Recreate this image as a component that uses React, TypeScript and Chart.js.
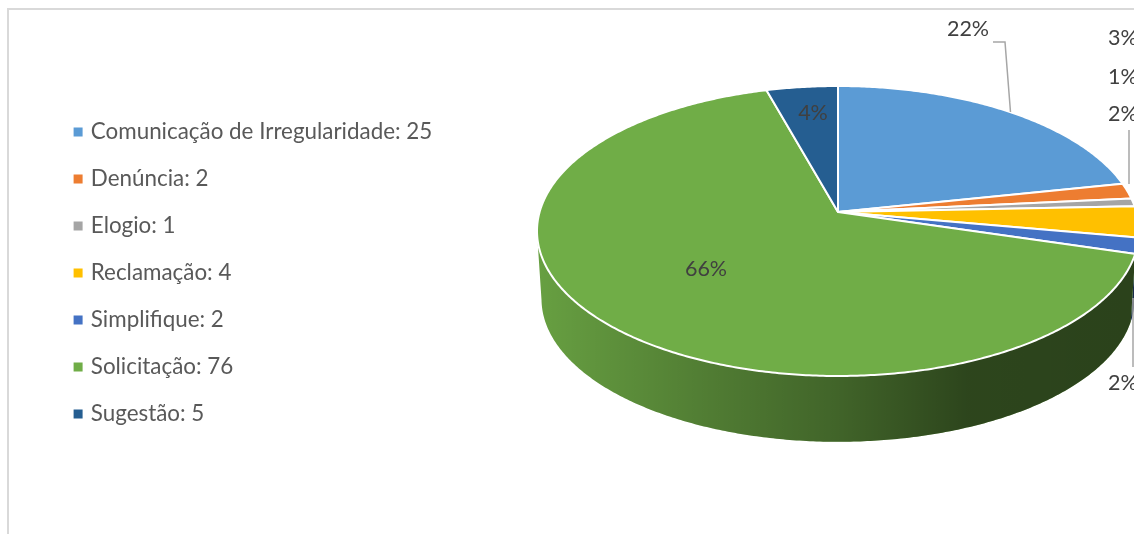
import React, { useEffect, useRef } from "react";
import { Chart, registerables } from "chart.js";

Chart.register(...registerables);

const categories = ["Comunicação de Irregularidade", "Denúncia", "Elogio", "Reclamação", "Simplifique", "Solicitação", "Sugestão"];
const values = [25, 2, 1, 4, 2, 76, 5];
const colors = ["#5b9bd5", "#ed7d31", "#a5a5a5", "#ffc000", "#4472c4", "#70ad47", "#255e91"];

// Where each percentage label sits (same order as categories)
const labelX = [968, 1108, 1108, 1108, 1108, 706, 813];
const labelY = [29, 114, 77, 38, 383, 269, 113];
const labelAlign: CanvasTextAlign[] = ["center", "left", "left", "left", "left", "center", "center"];

// Leader lines
const leaders = [
  [[993, 42], [1005, 42], [1010.5, 112]],
  [[1129, 130], [1129, 184]],
  [[1133, 298], [1133, 367]],
];

// Perspective projection of the pie disc
const APEX_X = 838;
const APEX_Y = 212;
const HALF_W = 298.4;
const PERSP = -0.131;
const Y_SCALE = 114.73;
const ELLIPSE_CY = 231;
const SHRINK = 0.985;
const DEPTH_CY = 299;

function project(a: number): [number, number] {
  const u = Math.cos(a);
  const v = Math.sin(a);
  const d = 1 + PERSP * v;
  return [APEX_X + (HALF_W * u) / d, (Y_SCALE * v + APEX_Y) / d];
}
function lower(p: [number, number]): [number, number] {
  return [APEX_X + (p[0] - APEX_X) * SHRINK, DEPTH_CY + (p[1] - ELLIPSE_CY) * SHRINK];
}
function rim(start: number, end: number): [number, number][] {
  const n = Math.max(2, Math.ceil((end - start) / 0.01));
  const pts: [number, number][] = [];
  for (let i = 0; i <= n; i++) pts.push(project(start + ((end - start) * i) / n));
  return pts;
}

const tiltedPie = {
  id: "tiltedPie",
  beforeDraw(chart: any) {
    const { ctx, width, height } = chart;
    ctx.save();
    ctx.fillStyle = "#ffffff";
    ctx.fillRect(0, 0, width, height);
    ctx.strokeStyle = "#d9d9d9";
    ctx.lineWidth = 2;
    ctx.beginPath();
    ctx.moveTo(8, height);
    ctx.lineTo(8, 9);
    ctx.lineTo(width, 9);
    ctx.stroke();
    ctx.restore();
  },
  beforeDatasetsDraw(chart: any) {
    const { ctx } = chart;
    const arcs = chart.getDatasetMeta(0).data;
    ctx.save();
    // sides
    arcs.forEach((arc: any, i: number) => {
      const top = rim(arc.startAngle, arc.endAngle).filter((p) => p[1] >= ELLIPSE_CY);
      if (top.length < 2) return;
      const bottom = top.map(lower).reverse();
      const path = new Path2D();
      top.concat(bottom).forEach((p, k) => (k ? path.lineTo(p[0], p[1]) : path.moveTo(p[0], p[1])));
      path.closePath();
      ctx.fillStyle = colors[i];
      ctx.fill(path);
      const shade = ctx.createLinearGradient(537, 0, 1134, 0);
      shade.addColorStop(0, "rgba(0,0,0,0.08)");
      shade.addColorStop(0.27, "rgba(0,0,0,0.27)");
      shade.addColorStop(0.5, "rgba(0,0,0,0.42)");
      shade.addColorStop(0.72, "rgba(0,0,0,0.6)");
      shade.addColorStop(1, "rgba(0,0,0,0.62)");
      ctx.fillStyle = shade;
      ctx.fill(path);
    });
    // tops
    ctx.lineJoin = "round";
    arcs.forEach((arc: any, i: number) => {
      const pts = rim(arc.startAngle, arc.endAngle);
      ctx.beginPath();
      ctx.moveTo(APEX_X, APEX_Y);
      pts.forEach((p) => ctx.lineTo(p[0], p[1]));
      ctx.closePath();
      ctx.fillStyle = colors[i];
      ctx.fill();
      ctx.strokeStyle = "#ffffff";
      ctx.lineWidth = 2;
      ctx.stroke();
    });
    ctx.restore();
    return false;
  },
  afterDraw(chart: any) {
    const { ctx } = chart;
    const total = values.reduce((a, b) => a + b, 0);
    ctx.save();
    ctx.strokeStyle = "#a6a6a6";
    ctx.lineWidth = 1.5;
    leaders.forEach((l) => {
      ctx.beginPath();
      l.forEach((p, k) => (k ? ctx.lineTo(p[0], p[1]) : ctx.moveTo(p[0], p[1])));
      ctx.stroke();
    });
    ctx.font = "21.5px Lato";
    ctx.fillStyle = "#404040";
    ctx.textBaseline = "middle";
    values.forEach((v, i) => {
      ctx.textAlign = labelAlign[i];
      ctx.fillText(`${Math.round((v / total) * 100)}%`, labelX[i], labelY[i]);
    });
    ctx.restore();
  },
};

export default function App() {
  const ref = useRef<HTMLCanvasElement>(null);
  useEffect(() => {
    const chart = new Chart(ref.current!, {
      type: "pie",
      data: {
        labels: categories,
        datasets: [{ data: values, backgroundColor: colors, borderColor: "#ffffff", borderWidth: 2 }],
      },
      options: {
        responsive: false,
        animation: false,
        layout: { padding: { left: 52, top: 12 } },
        plugins: {
          title: { display: false },
          tooltip: { enabled: false },
          legend: {
            position: "left",
            align: "center",
            labels: {
              font: { family: "Lato", size: 22.4 },
              color: "#595959",
              boxWidth: 3,
              boxHeight: 9,
              padding: 24.6,
              usePointStyle: true,
              pointStyle: "rect",
              generateLabels: () =>
                categories.map((c, i) => ({
                  text: `${c}: ${values[i]}`,
                  fillStyle: colors[i],
                  strokeStyle: colors[i],
                  fontColor: "#595959",
                  lineWidth: 0,
                  pointStyle: "rect",
                  index: i,
                })),
            },
          },
        },
      },
      plugins: [tiltedPie],
    } as any);
    return () => chart.destroy();
  }, []);
  return (
    <canvas
      ref={ref}
      width={1134}
      height={534}
      style={{ position: "absolute", left: 0, top: 0, display: "block" }}
    />
  );
}
